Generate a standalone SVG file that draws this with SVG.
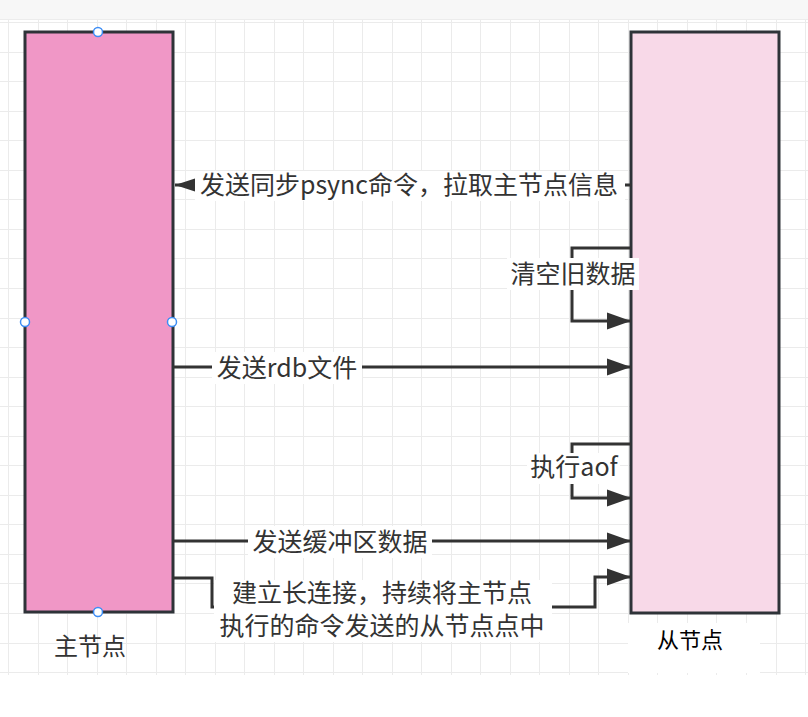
<svg xmlns="http://www.w3.org/2000/svg" width="808" height="717" viewBox="0 0 808 717">
<style>
.grid{stroke:#ebebeb;stroke-width:1;fill:none}
.node{stroke:#2e3338;stroke-width:3}
.edge{stroke:#333;stroke-width:3;fill:none}
.lblbg{fill:#fff}
.lbl{font-family:"Noto Sans CJK SC","Microsoft YaHei",sans-serif;font-size:25px;fill:#333;text-anchor:middle}
.lbl2{font-size:24px}
.handle{fill:#fff;stroke:#3d8df5;stroke-width:1.5}
</style>
<defs>
<marker id="arr" markerUnits="userSpaceOnUse" markerWidth="26" markerHeight="20" refX="24" refY="9" orient="auto">
<path d="M0,0.5 L24,9 L0,17.5 z" fill="#333"/>
</marker>
<marker id="arrS" markerUnits="userSpaceOnUse" markerWidth="22" markerHeight="16" refX="20" refY="7" orient="auto">
<path d="M0,0.5 L20,7 L0,13.5 z" fill="#333"/>
</marker>
</defs>
<rect x="0" y="0" width="808" height="717" fill="#fff"/>
<rect x="0" y="0" width="808" height="19" fill="#f7f7f7"/>
<line x1="0" y1="19.5" x2="808" y2="19.5" stroke="#ececec" stroke-width="1"/>
<g id="grid" class="grid">
<path d="M8.5,20V675M38.5,20V675M67.5,20V675M97.5,20V675M126.5,20V675M156.5,20V675M185.5,20V675M215.5,20V675M244.5,20V675M274.5,20V675M303.5,20V675M333.5,20V675M362.5,20V675M392.5,20V675M421.5,20V675M451.5,20V675M480.5,20V675M510.5,20V675M539.5,20V675M569.5,20V675M598.5,20V675M628.5,20V675M657.5,20V675M687.5,20V675M716.5,20V675M746.5,20V675M776.5,20V675M805.5,20V675"/>
<path d="M0,22.5H808M0,52.5H808M0,81.5H808M0,111.5H808M0,140.5H808M0,170.5H808M0,199.5H808M0,229.5H808M0,258.5H808M0,288.5H808M0,318.5H808M0,347.5H808M0,377.5H808M0,406.5H808M0,436.5H808M0,465.5H808M0,495.5H808M0,524.5H808M0,554.5H808M0,583.5H808M0,613.5H808M0,643.5H808M0,672.5H808"/>
</g>
<g id="master">
<rect class="node" x="25" y="32" width="148" height="580" fill="#f097c6"/>
<text class="lbl" x="90" y="655" style="font-size:24px">主节点</text>
</g>
<g id="slave">
<rect class="node" x="631" y="32" width="148" height="581" fill="#f8d9e8"/>
<rect class="lblbg" x="628" y="623" width="132" height="50"/>
<text class="lbl" x="690" y="648" style="font-size:22px;fill:#000">从节点</text>
</g>
<g id="connectors">
<g id="e-psync">
<path class="edge" d="M631,185H175" marker-end="url(#arrS)"/>
<rect class="lblbg" x="195" y="171" width="430" height="30"/>
<text class="lbl" x="409" y="194">发送同步psync命令，拉取主节点信息</text>
</g>
<g id="e-clear">
<path class="edge" d="M631,248H572V321H631" marker-end="url(#arr)"/>
<rect class="lblbg" x="507" y="258" width="132" height="32"/>
<text class="lbl" x="573" y="283">清空旧数据</text>
</g>
<g id="e-rdb">
<path class="edge" d="M173,367H631" marker-end="url(#arr)"/>
<rect class="lblbg" x="212" y="352" width="150" height="32"/>
<text class="lbl" x="287" y="377">发送rdb文件</text>
</g>
<g id="e-aof">
<path class="edge" d="M631,444H572V498H631" marker-end="url(#arr)"/>
<rect class="lblbg" x="527" y="453" width="93" height="31"/>
<text class="lbl" x="574" y="476">执行aof</text>
</g>
<g id="e-buffer">
<path class="edge" d="M173,541H631" marker-end="url(#arr)"/>
<rect class="lblbg" x="248" y="526" width="184" height="32"/>
<text class="lbl" x="340" y="551">发送缓冲区数据</text>
</g>
<g id="e-long">
<path class="edge" d="M173,578H212V607H595V577H631" marker-end="url(#arr)"/>
<rect class="lblbg" x="214" y="580" width="338" height="62"/>
<text class="lbl" x="382" y="602">建立长连接，持续将主节点</text>
<text class="lbl" x="382" y="635">执行的命令发送的从节点点中</text>
</g>
</g>
<g id="handles">
<circle class="handle" cx="98" cy="32" r="4.5"/>
<circle class="handle" cx="25" cy="322" r="4.5"/>
<circle class="handle" cx="172" cy="322" r="4.5"/>
<circle class="handle" cx="98" cy="612" r="4.5"/>
</g>
</svg>
